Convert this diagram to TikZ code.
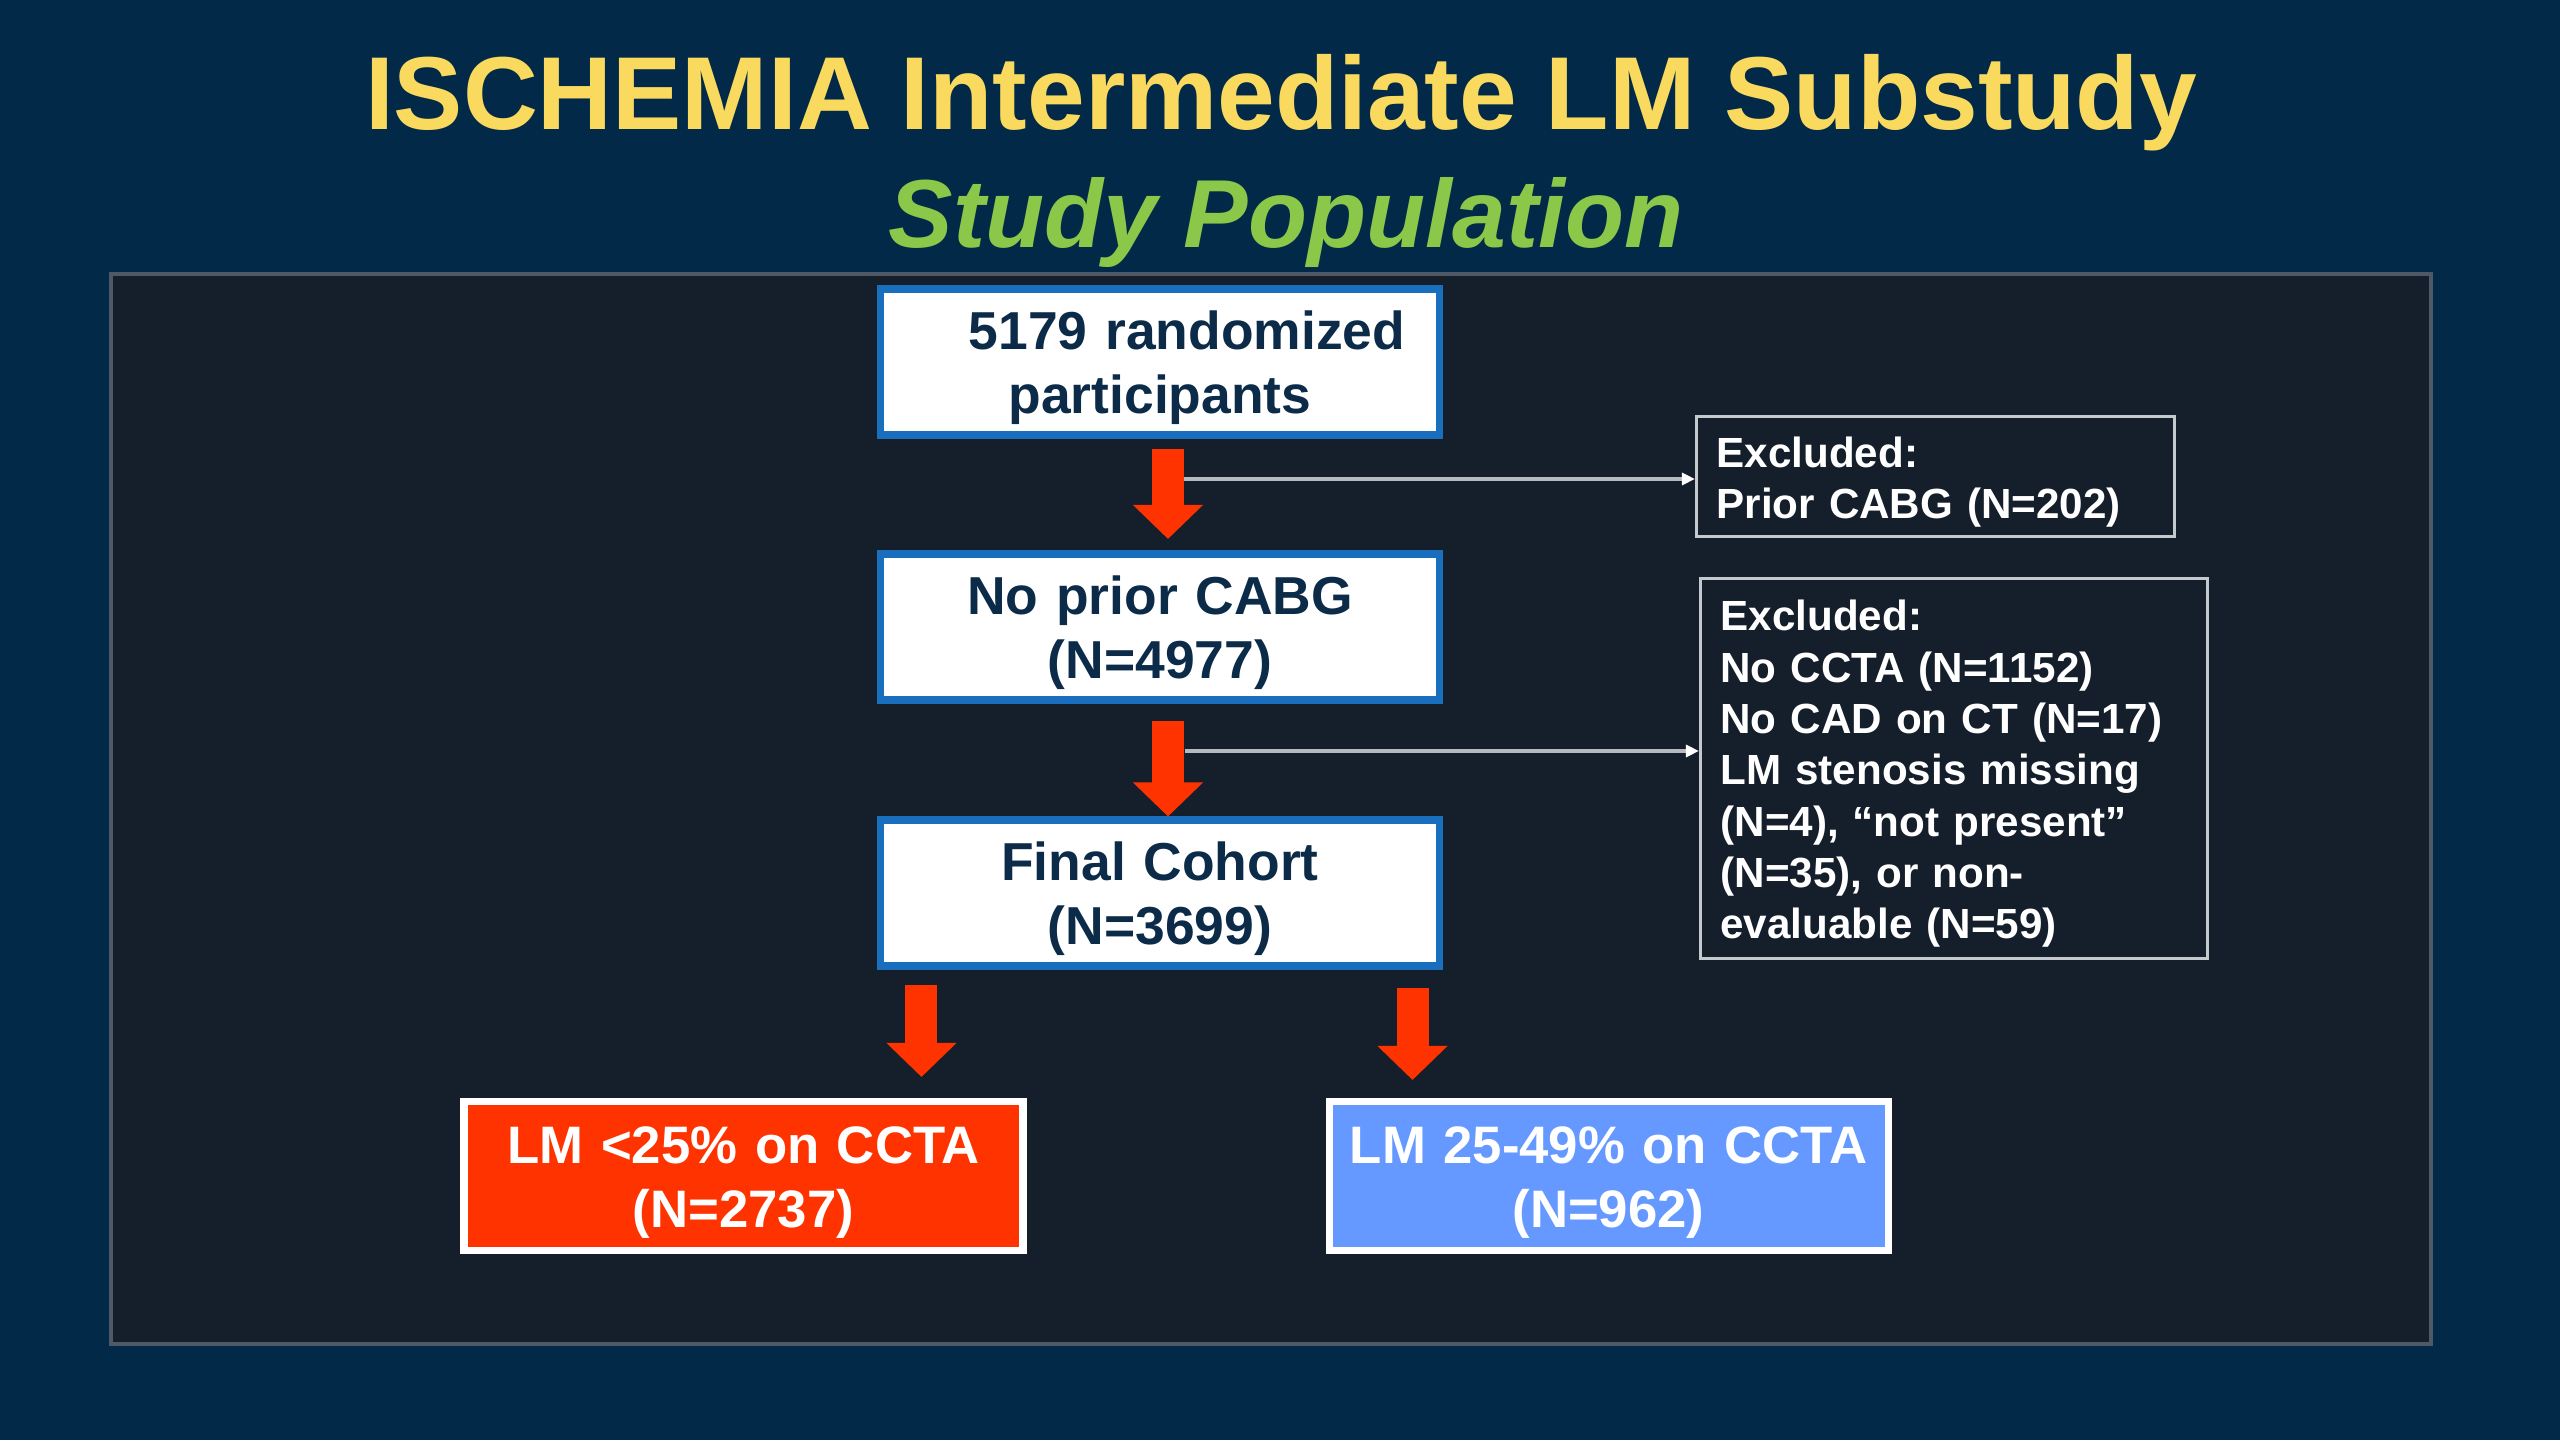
\documentclass[tikz,border=0pt]{standalone}
\usepackage{fontspec}
\setmainfont{Liberation Sans}
\usepackage{tikz}
\usetikzlibrary{arrows.meta,calc}
\definecolor{slidebg}{HTML}{022A48}
\definecolor{panelbg}{HTML}{151E2B}
\definecolor{panelline}{HTML}{4E5866}
\definecolor{titleyellow}{HTML}{FADA5E}
\definecolor{titlegreen}{HTML}{8BC84A}
\definecolor{boxblue}{HTML}{1A6EBE}
\definecolor{boxtext}{HTML}{0B2B48}
\definecolor{flowred}{HTML}{FF3300}
\definecolor{midblue}{HTML}{6699FF}
\definecolor{exclline}{HTML}{C4C9CE}
\definecolor{tapgrey}{HTML}{B4BAC0}

\begin{document}
\begin{tikzpicture}[
  flowbox/.style={draw=boxblue, line width=2pt, fill=white, text=boxtext, text width=5.5cm, minimum width=5.59cm, minimum height=1.46cm, inner sep=0pt, align=center, font=\fontsize{15.2}{18.2}\selectfont\bfseries, execute at begin node={\rule{0pt}{14.2pt}}},
  groupbox/.style={draw=white, line width=2pt, text=white, text width=5.5cm, minimum width=5.59cm, minimum height=1.49cm, inner sep=0pt, align=center, font=\fontsize{15}{18.2}\selectfont\bfseries, execute at begin node={\rule{0pt}{14.2pt}}},
  exclbox/.style={draw=exclline, line width=0.9pt, text=white, inner xsep=0.2cm, inner ysep=0pt, align=left, font=\fontsize{12}{14.6}\selectfont\bfseries, execute at begin node={\rule{0pt}{11.8pt}}},
  bigdown/.style={flowred, line width=0.32cm, -{Triangle[length=0.34cm,width=0.68cm]}},
  exclarrow/.style={tapgrey, line width=0.9pt, -{Triangle[length=0.13cm,width=0.12cm,fill=white,color=white]}}
]
\fill[slidebg] (0,0) rectangle (25.6,14.4);
\draw[panelline, line width=1.2pt, fill=panelbg] (1.11,0.96) rectangle (24.31,11.66);

\node[anchor=base, text=titleyellow, font=\fontsize{29.5}{30}\selectfont\bfseries] (title) at (12.81,13.10) {ISCHEMIA Intermediate LM Substudy};
\node[anchor=base, text=titlegreen, font=\fontsize{27.5}{28}\selectfont\bfseries\itshape] (subtitle) at (12.86,11.92) {Study Population};

\node[flowbox] (rand) at (11.60,10.78) {\hspace*{0.54cm}5179 randomized\\participants};
\node[flowbox] (noprior) at (11.60,8.13) {No prior CABG\\(N=4977)};
\node[flowbox] (final) at (11.60,5.47) {Final Cohort\\(N=3699)};
\node[groupbox, fill=flowred] (low) at (7.435,2.64) {LM <25\% on CCTA\\(N=2737)};
\node[groupbox, fill=midblue] (mid) at (16.085,2.64) {LM 25-49\% on CCTA\\(N=962)};

\node[exclbox, text width=4.38cm, minimum height=1.20cm] (excl1) at (19.355,9.635) {Excluded:\\Prior CABG (N=202)};
\node[exclbox, text width=4.67cm, minimum height=3.80cm] (excl2) at (19.54,6.715) {Excluded:\\No CCTA (N=1152)\\No CAD on CT (N=17)\\LM stenosis missing\\(N=4), “not present”\\(N=35), or non-\\evaluable (N=59)};

\coordinate (tap1) at (11.84,9.61);
\coordinate (tap2) at (11.85,6.89);
\draw[exclarrow] (tap1) -- (tap1 -| excl1.west);
\draw[exclarrow] (tap2) -- (tap2 -| excl2.west);

\draw[bigdown] ([xshift=0.8mm,yshift=-1.05mm]rand.south) -- ([xshift=0.8mm,yshift=1.15mm]noprior.north);
\draw[bigdown] ([xshift=0.8mm,yshift=-1.75mm]noprior.south) -- ([xshift=0.8mm]final.north);
\draw[bigdown] ($(final.south west)+(0.445,-0.15)$) -- ($(final.south west |- low.north)+(0.445,0.21)$);
\draw[bigdown] ($(final.south east)+(-0.305,-0.18)$) -- ($(final.south east |- mid.north)+(-0.305,0.18)$);
\end{tikzpicture}
\end{document}
